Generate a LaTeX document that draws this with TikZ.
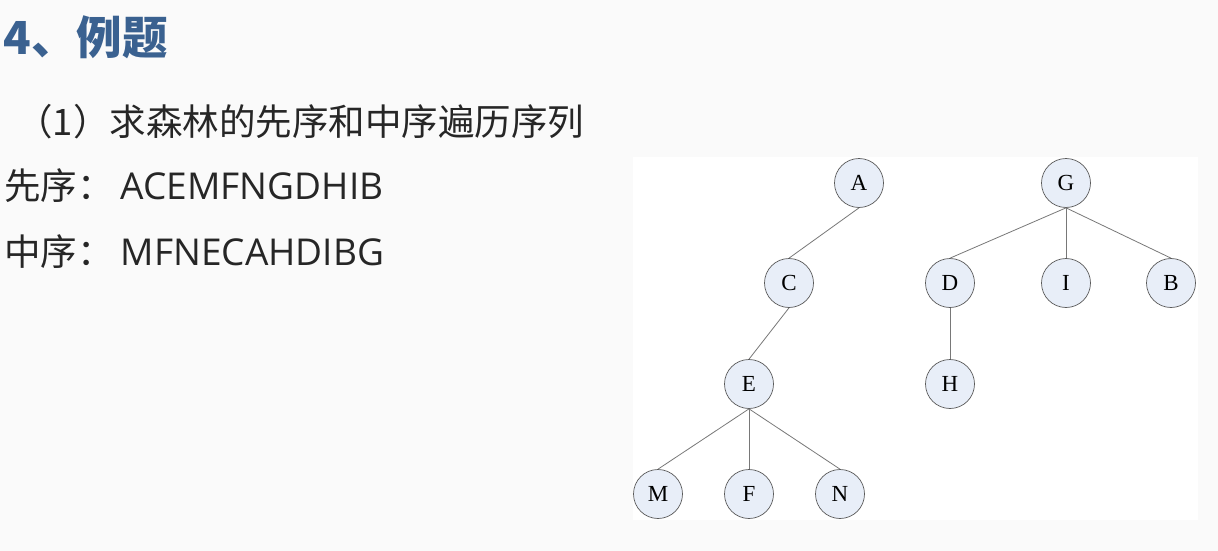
\documentclass[tikz,border=0pt]{standalone}
\usepackage{fontspec}
\setmainfont{Liberation Serif}
\newfontfamily\cjkfont{Noto Sans CJK SC}
\newfontfamily\latinfont{Open Sans}
\definecolor{titleblue}{RGB}{58,97,144}
\definecolor{nodefill}{RGB}{232,238,248}
\definecolor{nodeline}{RGB}{90,90,90}
\definecolor{branchgray}{RGB}{120,120,120}
\definecolor{slidebg}{RGB}{250,250,250}

\newcommand{\seqtext}[1]{\hspace{7pt}{\latinfont\fontsize{37}{37}\selectfont #1}}

\tikzset{every picture/.style={line width=0.75pt}}
\tikzset{
  treenode/.style={circle, draw=nodeline, fill=nodefill, line width=0.7pt,
    minimum size=49pt, inner sep=0pt, font=\fontsize{23}{23}\selectfont},
  branch/.style={draw=branchgray, line width=0.8pt},
  slidetext/.style={anchor=west, inner sep=0pt, font=\cjkfont\fontsize{36.5}{36.5}\selectfont, text=black!85}
}

\begin{document}
\begin{tikzpicture}[x=1pt,y=1pt,yscale=-1,xscale=1]
\useasboundingbox (0,0) rectangle (1218,551);
%slide background
\fill[slidebg] (0,0) rectangle (1218,551);
%white panel of the forest picture
\fill[white] (633,157) rectangle (1198,520);

% Text Node
\node (title) [slidetext, font=\cjkfont\bfseries\fontsize{45.5}{45.5}\selectfont, text=titleblue] at (3,37) {4、例题};
% Text Node
\node (task) [slidetext] at (16,122) {（1）求森林的先序和中序遍历序列};
% Text Node
\node (preorder) [slidetext] at (4,186) {先序：\seqtext{ACEMFNGDHIB}};
% Text Node
\node (inorder) [slidetext] at (4,252) {中序：\seqtext{MFNECAHDIBG}};

%first tree
\node (A) [treenode] at (859,183) {A};
\node (C) [treenode] at (789,283) {C};
\node (E) [treenode] at (749,384) {E};
\node (M) [treenode] at (658,494) {M};
\node (F) [treenode] at (749,494) {F};
\node (N) [treenode] at (840,494) {N};
%second tree
\node (G) [treenode] at (1066,183) {G};
\node (D) [treenode] at (950,283) {D};
\node (I) [treenode] at (1066,283) {I};
\node (B) [treenode] at (1171,283) {B};
\node (H) [treenode] at (950,384) {H};

%branches
\draw [branch] (A.south) -- (C.north);
\draw [branch] (C.south) -- (E.north);
\foreach \kid in {M,F,N}
  \draw [branch] (E.south) -- (\kid.north);
\foreach \kid in {D,I,B}
  \draw [branch] (G.south) -- (\kid.north);
\draw [branch] (D.south) -- (H.north);

\end{tikzpicture}
\end{document}
